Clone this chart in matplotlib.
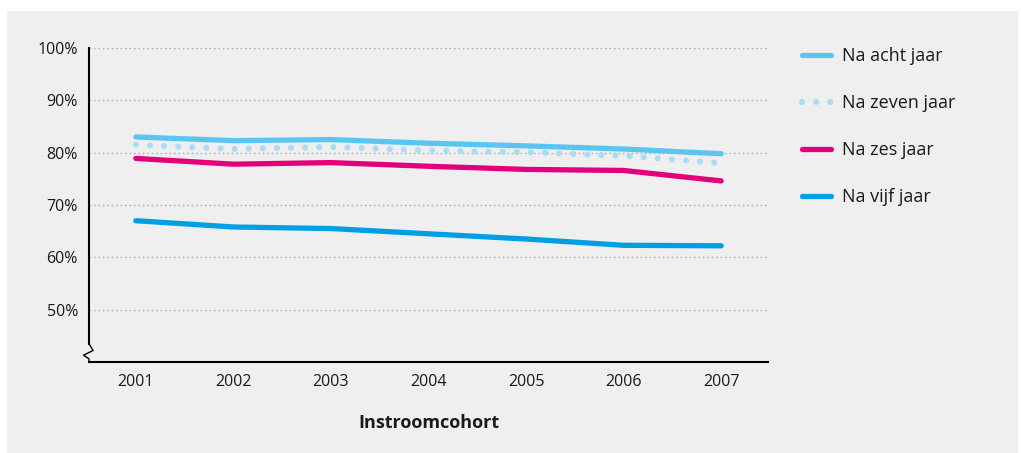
import matplotlib
matplotlib.use("Agg")
import matplotlib.pyplot as plt
from matplotlib.lines import Line2D
from matplotlib.patches import Rectangle

years = [2001, 2002, 2003, 2004, 2005, 2006, 2007]
na_acht = [83.0, 82.3, 82.5, 81.8, 81.3, 80.7, 79.8]
na_zeven = [81.5, 80.7, 81.1, 80.4, 80.1, 79.4, 78.0]
na_zes = [78.9, 77.8, 78.1, 77.4, 76.8, 76.6, 74.6]
na_vijf = [67.0, 65.8, 65.5, 64.5, 63.5, 62.3, 62.2]
yticks = [50, 60, 70, 80, 90, 100]
ytick_labels = ["50%", "60%", "70%", "80%", "90%", "100%"]
labels = ["Na acht jaar", "Na zeven jaar", "Na zes jaar", "Na vijf jaar"]
xlabel = "Instroomcohort"

plt.rcParams['font.family'] = ['Open Sans', 'DejaVu Sans']

W, H = 1021, 453
fig = plt.figure(figsize=(W / 100, H / 100), dpi=100)
fig.patch.set_facecolor("white")
bg = Rectangle((7 / W, 0), (1018 - 7) / W, (453 - 11) / H,
               transform=fig.transFigure, facecolor="#efefef",
               edgecolor="none", zorder=-10)
fig.add_artist(bg)

# axes: left spine x=89, right 768; y top (100%) 48, x-axis 362
ax_l, ax_r = 89, 768
ax_top, ax_bot = 48, 362
ax = fig.add_axes([ax_l / W, 1 - ax_bot / H, (ax_r - ax_l) / W, (ax_bot - ax_top) / H])
ax.set_zorder(1)
ax.set_facecolor("none")
ax.set_xlim(2000.52, 2007.48)
ax.set_ylim(40, 100)

for v in yticks:
    ax.axhline(v, color="#b0b0b0", lw=1.0, ls=(0, (1.2, 2.0)), zorder=1)

c_acht = "#5bc5f2"
c_zeven = "#a8ddf7"
c_zes = "#e4007c"
c_vijf = "#009fe3"
lw = 3.8
lw_dot = 4.4
dot_style = (0, (0.01, 2.3))
ax.plot(years, na_acht, color=c_acht, lw=lw, solid_capstyle="round", zorder=3)
ax.plot(years, na_zeven, color=c_zeven, lw=lw_dot, ls=dot_style,
        dash_capstyle="round", zorder=3)
ax.plot(years, na_zes, color=c_zes, lw=lw, solid_capstyle="round", zorder=3)
ax.plot(years, na_vijf, color=c_vijf, lw=lw, solid_capstyle="round", zorder=3)

for s in ["top", "right", "left"]:
    ax.spines[s].set_visible(False)
ax.spines["bottom"].set_color("black")
ax.spines["bottom"].set_linewidth(1.5)

# left spine with break mark (drawn in axes coordinates)
def yfrac(v):
    return (v - 40) / 60.0
tr = ax.transAxes
ax.add_line(Line2D([0, 0], [1.0, yfrac(43.5)], transform=tr, color="black",
                   lw=1.5, clip_on=False))
ax.add_line(Line2D([0, 0.006, -0.008, 0.0, 0.0],
                   [yfrac(43.5), yfrac(42.2), yfrac(41.3), yfrac(40.6), 0.0],
                   transform=tr, color="black", lw=1.0, clip_on=False))

ax.set_yticks(yticks)
ax.set_yticklabels(ytick_labels)
ax.set_xticks(years)
ax.set_xticklabels([str(y) for y in years])
ax.tick_params(axis="both", length=0, labelsize=11.5, colors="#1a1a1a")
ax.tick_params(axis="y", pad=8)
ax.tick_params(axis="x", pad=9)
ax.set_xlabel(xlabel, fontsize=13, fontweight="bold", labelpad=17, color="#1a1a1a")

handles = [
    Line2D([], [], color=c_acht, lw=lw, solid_capstyle="round"),
    Line2D([], [], color=c_zeven, lw=lw_dot, ls=dot_style, dash_capstyle="round"),
    Line2D([], [], color=c_zes, lw=lw, solid_capstyle="round"),
    Line2D([], [], color=c_vijf, lw=lw, solid_capstyle="round"),
]
leg = fig.legend(handles, labels, loc="upper left",
                 bbox_to_anchor=(795 / W, 1 - 40 / H), frameon=False,
                 fontsize=13, handlelength=1.6, handletextpad=0.6,
                 labelspacing=1.6, borderaxespad=0)
for t in leg.get_texts():
    t.set_color("#1a1a1a")

fig.savefig("out.png", dpi=100, facecolor="white")
